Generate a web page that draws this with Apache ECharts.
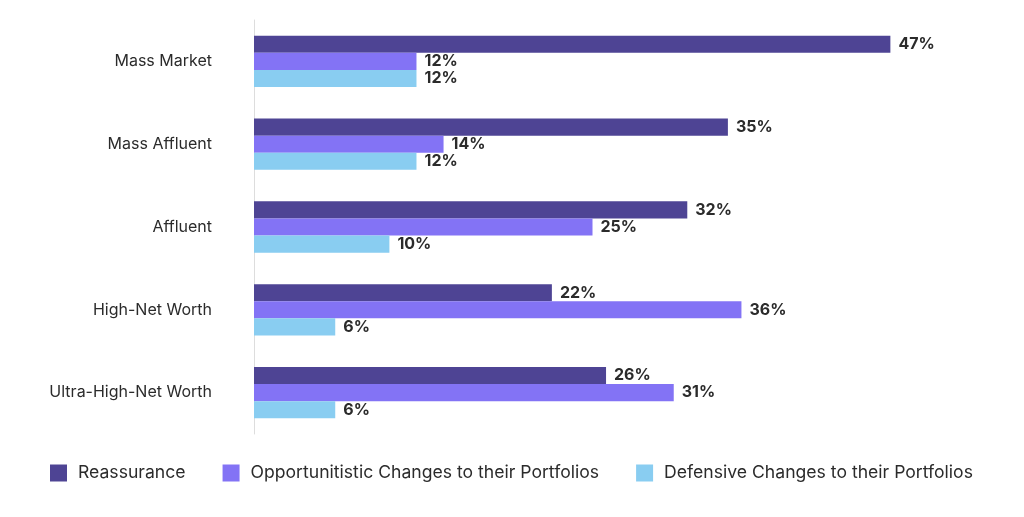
<!DOCTYPE html>
<html lang="en">
  <head>
    <meta charset="UTF-8" />
    <title>Chart</title>
    <script src="https://cdn.jsdelivr.net/npm/echarts@6.0.0/dist/echarts.min.js"></script>
    <style>
      html, body { margin: 0; padding: 0; background: #fff; }
      #chart { width: 1024px; height: 517px; }
    </style>
  </head>
  <body>
    <div id="chart"></div>
    <script>
      var categories = [
        "Mass Market",
        "Mass Affluent",
        "Affluent",
        "High-Net Worth",
        "Ultra-High-Net Worth",
      ];
      var seriesNames = [
        "Reassurance",
        "Opportunitistic Changes to their Portfolios",
        "Defensive Changes to their Portfolios",
      ];
      var reassurance = [47, 35, 32, 22, 26];
      var opportunistic = [12, 14, 25, 36, 31];
      var defensive = [12, 12, 10, 6, 6];
      var colors = ["#4e4494", "#8373f5", "#89cdf1"];

      var font = "Inter, 'Open Sans', sans-serif";
      var chart = echarts.init(document.getElementById("chart"));

      function makeSeries(name, data, color) {
        return {
          name: name,
          type: "bar",
          data: data,
          barGap: "0%",
          barCategoryGap: "38%",
          itemStyle: { color: color },
          label: {
            show: true,
            position: "right",
            distance: 8,
            formatter: "{c}%",
            color: "#2b2b2b",
            fontFamily: font,
            fontWeight: "bold",
            fontSize: 16,
          },
        };
      }

      chart.setOption({
        animation: false,
        grid: { left: 254, right: 93, top: 20, bottom: 83 },
        legend: {
          left: 45,
          top: 459,
          itemWidth: 17,
          itemHeight: 17,
          itemGap: 37,
          icon: "rect",
          textStyle: { fontFamily: font, fontSize: 17.6, color: "#2b2b2b", padding: [0, 0, 0, 6] },
          data: seriesNames,
        },
        xAxis: {
          type: "value",
          min: 0,
          max: 50,
          show: false,
        },
        yAxis: {
          type: "category",
          inverse: true,
          data: categories,
          axisLine: { show: true, lineStyle: { color: "#dddddd", width: 1 } },
          axisTick: { show: false },
          axisLabel: {
            margin: 42,
            fontFamily: font,
            fontSize: 16,
            color: "#2b2b2b",
            padding: [0, 0, 4, 0],
          },
        },
        series: [
          makeSeries(seriesNames[0], reassurance, colors[0]),
          makeSeries(seriesNames[1], opportunistic, colors[1]),
          makeSeries(seriesNames[2], defensive, colors[2]),
        ],
      });
    </script>
  </body>
</html>
